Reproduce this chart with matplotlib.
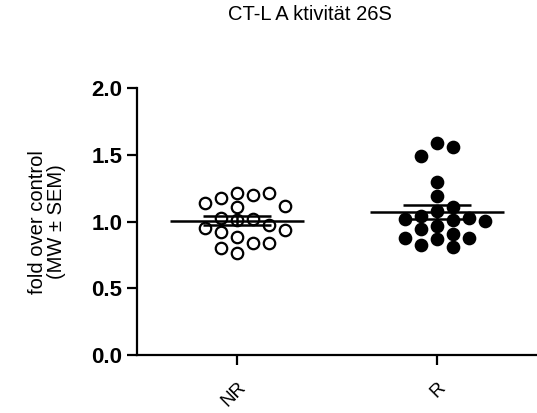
"""Scatter (dot) plot of CT-L activity, NR vs R, with mean and SEM bars."""

import numpy as np
import matplotlib

matplotlib.use("Agg")
import matplotlib.pyplot as plt

groups = ["NR", "R"]
nr_values = [1.211, 1.199, 1.174, 1.211, 1.136, 1.116, 1.111, 1.016, 1.024, 1.011,
             0.974, 0.949, 0.924, 0.936, 0.886, 0.841, 0.837, 0.799, 0.766]
r_values = [1.590, 1.556, 1.493, 1.294, 1.193, 1.111, 1.081, 1.043, 1.024, 1.011,
            1.016, 1.006, 0.969, 0.942, 0.906, 0.874, 0.869, 0.879, 0.807, 0.824]
title = "CT-L A ktivität 26S"
ylabel = "fold over control\n(MW ± SEM)"
yticks = [0.0, 0.5, 1.0, 1.5, 2.0]

plt.rcParams["font.family"] = ["Liberation Sans", "DejaVu Sans"]


def swarm_offsets(values, col_px, min_dy_px, px_per_x, px_per_y):
    """Greedy column swarm: place each point in nearest free column."""
    order = [0]
    for i in range(1, 10):
        order += [i, -i]
    placed = []
    offsets = []
    for v in values:
        y = v * px_per_y
        for k in order:
            x = k * col_px
            if all(not (px == x and abs(py - y) < min_dy_px) for px, py in placed):
                break
        placed.append((x, y))
        offsets.append(x / px_per_x)
    return np.array(offsets)


fig = plt.figure(figsize=(5.37, 4.13), dpi=100)
ax = fig.add_axes([0.255, 0.140, 0.745, 0.647])
ax.set_xlim(-0.5, 1.5)
ax.set_ylim(0, 2.0)

px_x = 0.745 * 537 / 2.0
px_y = 0.647 * 413 / 2.0

for i, (vals, filled) in enumerate([(nr_values, False), (r_values, True)]):
    vals = np.asarray(vals)
    xs = i + swarm_offsets(vals, 16, 13, px_x, px_y)
    ax.scatter(xs, vals, s=68, facecolor="black" if filled else "white",
               edgecolor="black", linewidth=1.6, zorder=3)
    mean = vals.mean()
    sem = vals.std(ddof=1) / np.sqrt(len(vals))
    ax.hlines(mean, i - 0.335, i + 0.335, color="black", linewidth=1.8, zorder=4)
    ax.hlines([mean - sem, mean + sem], i - 0.17, i + 0.17, color="black",
              linewidth=1.8, zorder=4)
    ax.vlines(i, mean - sem, mean + sem, color="black", linewidth=1.8, zorder=4)

for side in ["top", "right"]:
    ax.spines[side].set_visible(False)
for side in ["left", "bottom"]:
    ax.spines[side].set_linewidth(1.6)

ax.set_yticks(yticks)
ax.set_yticklabels([f"{t:.1f}" for t in yticks], fontsize=16, fontweight="bold")
ax.set_xticks(range(len(groups)))
ax.set_xticklabels(groups, fontsize=13.5, rotation=45, ha="right",
                   rotation_mode="anchor")
ax.tick_params(axis="both", width=1.6, length=7, direction="out")
ax.tick_params(axis="x", pad=10)
ax.set_ylabel(ylabel, fontsize=14.5, labelpad=18, linespacing=1.05)

fig.text(310 / 537, 1 - 15 / 413, title, fontsize=14.5, ha="center", va="center")

fig.savefig("out.png", dpi=100)
